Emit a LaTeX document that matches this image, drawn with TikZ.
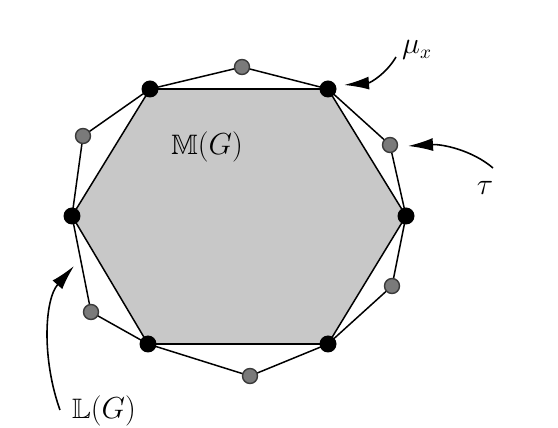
\documentclass[tikz,border=0pt]{standalone}
\usepackage{amsmath,amssymb}
\usetikzlibrary{arrows.meta}
\definecolor{hexgray}{HTML}{C8C8C8}
\definecolor{dotgray}{HTML}{7A7A7A}
\definecolor{dotrim}{HTML}{3A3A3A}

\begin{document}
\begin{tikzpicture}[x=0.02cm,y=-0.02cm,>=Latex,
 vertex/.style={circle,fill=black,inner sep=0pt,minimum size=0.34cm},
 midpt/.style={circle,draw=dotrim,fill=dotgray,line width=0.8pt,inner sep=0pt,minimum size=0.3cm},
 edge/.style={line width=0.85pt},
 lbl/.style={font=\fontsize{16}{19}\selectfont},
 pointer/.style={line width=0.9pt,-{Latex[length=5mm,width=2.6mm]}}]
 \useasboundingbox (0,0) rectangle (558,428);
 % corners of M(G) and the points tau between them
 \coordinate (c1) at (150,89);  \coordinate (c2) at (328,89);
 \coordinate (c3) at (406,216); \coordinate (c4) at (328,344);
 \coordinate (c5) at (148,344); \coordinate (c6) at (72,216);
 \fill[hexgray] (c1)--(c2)--(c3)--(c4)--(c5)--(c6)--cycle;
 \foreach \i/\p in {1/{242,67},2/{390,145},3/{392,286},4/{250,376},5/{91,312},6/{83,136}}
   \coordinate (d\i) at (\p);
 \foreach \a/\b in {c1/c2,c2/c3,c3/c4,c4/c5,c5/c6,c6/c1,
                    c1/d1,d1/c2,c2/d2,d2/c3,c3/d3,d3/c4,c4/d4,d4/c5,c5/d5,d5/c6,c6/d6,d6/c1}
   \draw[edge] (\a)--(\b);
 \foreach \i in {1,...,6} {
   \node[vertex] (m\i) at (c\i) {};
   \node[midpt] (t\i) at (d\i) {};
 }
 % labels
 \node[lbl] (mg) at (207,147) {$\mathbb{M}(G)$};
 \node[lbl] (mu) at (417,50) {$\mu_x$};
 \node[lbl] (tau) at (485,188) {$\tau$};
 \node[lbl] (lg) at (104,411) {$\mathbb{L}(G)$};
 \coordinate (muS) at (396,57);  \coordinate (muE) at (344,85);
 \coordinate (tauS) at (493,168); \coordinate (tauE) at (408,146);
 \coordinate (lgS) at (60,410);  \coordinate (lgE) at (74,266);
 \draw[pointer] (muS) .. controls (386,74) and (370,83) .. (muE);
 \draw[pointer] (tauS) .. controls (472,150) and (442,144) .. (tauE);
 \draw[pointer] (lgS) .. controls (42,360) and (44,300) .. (lgE);
\end{tikzpicture}
\end{document}
